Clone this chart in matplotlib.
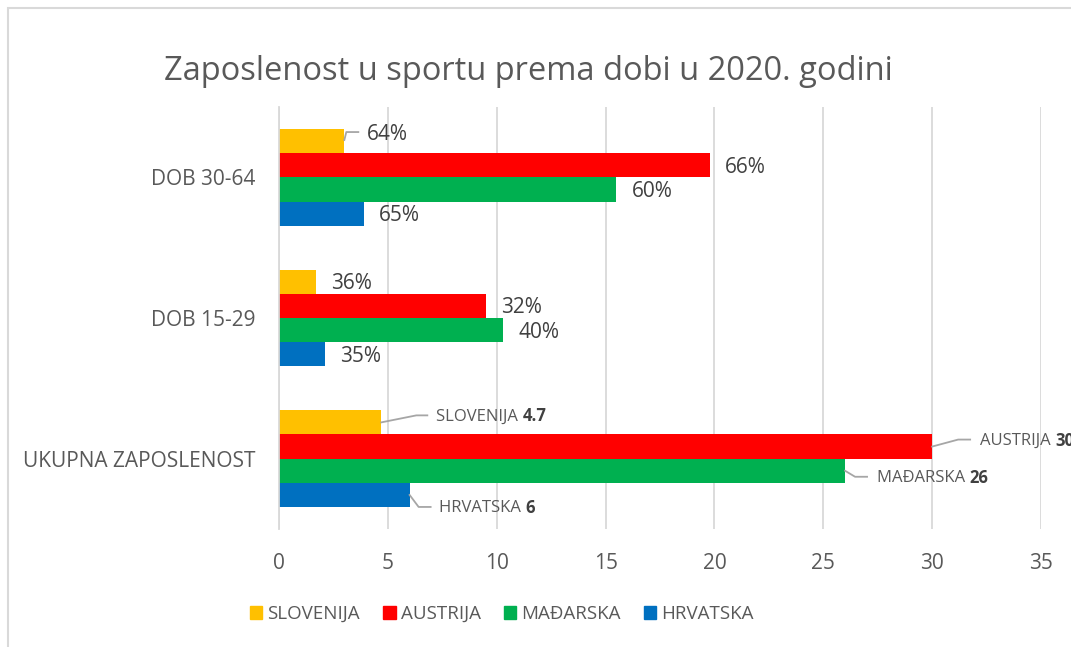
import numpy as np
import matplotlib
matplotlib.use("Agg")
import matplotlib.pyplot as plt
from matplotlib.patches import Patch, Rectangle

plt.rcParams['font.family'] = ['Open Sans', 'DejaVu Sans']

categories = ["UKUPNA ZAPOSLENOST", "DOB 15-29", "DOB 30-64"]
countries = ["SLOVENIJA", "AUSTRIJA", "MAĐARSKA", "HRVATSKA"]
colors = ["#FFC000", "#FF0000", "#00B050", "#0070C0"]

# values per country, in order of categories (bottom to top)
slovenija = [4.7, 1.7, 3.0]
austrija = [30, 9.5, 19.8]
madarska = [26, 10.3, 15.5]
hrvatska = [6, 2.1, 3.9]
series = [slovenija, austrija, madarska, hrvatska]

# percentage labels for the two age groups
pct_slovenija = ["36%", "64%"]
pct_austrija = ["32%", "66%"]
pct_madarska = ["40%", "60%"]
pct_hrvatska = ["35%", "65%"]
pct_labels = [pct_slovenija, pct_austrija, pct_madarska, pct_hrvatska]

xticks = [0, 5, 10, 15, 20, 25, 30, 35]

W, H = 1071, 647
fig = plt.figure(figsize=(W / 100, H / 100), dpi=100)
ax = fig.add_axes([279 / W, 1 - 529 / H, (1041 - 279) / W, (529 - 107) / H])

grey = "#595959"
h = 0.172
y = np.arange(len(categories))
offsets = [1.5 * h, 0.5 * h, -0.5 * h, -1.5 * h]
for vals, col, off in zip(series, colors, offsets):
    ax.barh(y + off, vals, height=h, color=col, zorder=3)

ax.set_xlim(0, 35)
ax.set_ylim(-0.5, 2.5)
ax.set_xticks(xticks)
ax.set_yticks(y)
ax.set_yticklabels(categories)
ax.tick_params(axis='both', length=0, labelsize=15, colors=grey)
ax.tick_params(axis='y', pad=17)
ax.tick_params(axis='x', pad=17)
ax.grid(axis='x', color="#D9D9D9", lw=1.3, zorder=0)
for s in ['top', 'right', 'bottom']:
    ax.spines[s].set_visible(False)
ax.spines['left'].set_color("#D9D9D9")
ax.spines['left'].set_linewidth(1.3)
ax.spines['left'].set_zorder(4)

# percentage labels (age groups)
for i, (vals, labs, off) in enumerate(zip(series, pct_labels, offsets)):
    for j in (1, 2):
        dx, dy = 15, -2
        if i == 0 and j == 2:
            dx, dy = 23, 7
        ax.annotate(labs[j - 1], (vals[j], j + off), xytext=(dx, dy),
                    textcoords='offset pixels', ha='left', va='center',
                    fontsize=15, color="#404040")

# leader line for 64%
p = ax.transData.transform((slovenija[2], 2 + offsets[0]))
pts = np.array([[0, 1], [2, 9], [14, 9]]) + p
fig.add_artist(plt.Line2D(pts[:, 0], pts[:, 1], transform=None, color="#A6A6A6", lw=1.3))

# callouts for total employment
callouts = [
    ([[0, 0], [35, 7], [46, 7]], (55, 6)),
    ([[0, 0], [26, 7], [38, 7]], (48, 6)),
    ([[0, 0], [10, -6], [22, -6]], (32, -7)),
    ([[0, 0], [9, -12], [21, -12]], (29, -13)),
]
fig.canvas.draw()
renderer = fig.canvas.get_renderer()
for name, vals, off, (line, tpos) in zip(countries, series, offsets, callouts):
    p = ax.transData.transform((vals[0], 0 + off))
    pts = np.array(line) + p
    fig.add_artist(plt.Line2D(pts[:, 0], pts[:, 1], transform=None, color="#A6A6A6", lw=1.3))
    t = fig.text(p[0] + tpos[0], p[1] + tpos[1], name + " ", transform=None,
                 ha='left', va='center', fontsize=12, color=grey)
    bb = t.get_window_extent(renderer)
    val = ("%g" % vals[0])
    fig.text(bb.x1, p[1] + tpos[1], val, transform=None, ha='left', va='center',
             fontsize=12, color="#404040", fontweight='bold')

fig.text(528 / W, 1 - 72 / H, "Zaposlenost u sportu prema dobi u 2020. godini",
         ha='center', va='center', fontsize=23.5, color=grey)

handles = [Patch(color=c) for c in colors]
fig.legend(handles, countries, loc='center', bbox_to_anchor=(502 / W, 1 - 614 / H),
           ncol=4, frameon=False, fontsize=13.5, labelcolor=grey,
           handlelength=0.65, handleheight=0.65, handletextpad=0.27, columnspacing=1.25)

# chart area border
fig.add_artist(Rectangle((8, -20), 2000, H - 8 + 20, transform=None, fill=False,
                         edgecolor="#D9D9D9", lw=1.5))

fig.savefig("out.png", dpi=100)
